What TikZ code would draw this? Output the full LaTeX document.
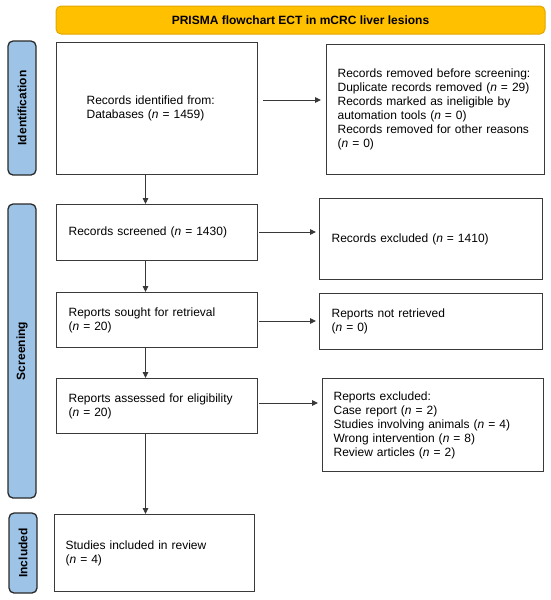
\documentclass[tikz,border=0pt]{standalone}
\usepackage{fontspec}
\setmainfont{Liberation Sans}
\usetikzlibrary{arrows.meta}
\definecolor{boxline}{HTML}{3A3A3A}
\definecolor{arrline}{HTML}{383838}
\definecolor{sideblue}{HTML}{9DC3E6}
\definecolor{sideline}{HTML}{2A2A2A}
\definecolor{titlefill}{HTML}{FFC000}
\definecolor{titleline}{HTML}{E3A600}
\begin{document}
\begin{tikzpicture}[x=1pt,y=-1pt,
  txt/.style={font=\fontsize{12}{14}\selectfont},
  box/.style={txt, draw=boxline, line width=1.2pt, fill=white, align=left,
    inner ysep=0pt, inner xsep=12pt, anchor=north west},
  side/.style={draw=sideline, line width=1.3pt, fill=sideblue, rounded corners=5pt,
    rotate=90, inner sep=0pt, font=\fontsize{12}{14}\selectfont\bfseries},
  arr/.style={draw=arrline, line width=0.9pt, -{Triangle[length=6pt,width=5.5pt]}}]
\useasboundingbox (0,0) rectangle (550,600);

% title
\node[draw=titleline, line width=1pt, fill=titlefill, rounded corners=5pt,
  minimum width=489pt, minimum height=28pt, inner sep=0pt,
  font=\fontsize{12}{14}\selectfont\bfseries] (title) at (300.5,20)
  {PRISMA flowchart ECT in mCRC liver lesions};

% side labels
\node[side, minimum width=134pt, minimum height=28pt] (sid) at (22,108) {Identification};
\node[side, minimum width=294pt, minimum height=28pt] (ssc) at (22,351) {Screening};
\node[side, minimum width=80pt, minimum height=28pt] (sin) at (23,553) {Included};

% left column
\node[box, inner xsep=30pt, text width=141pt, minimum height=132pt] (b1) at (56,42)
  {Records identified from:\\Databases (\textit{n} = 1459)};
\node[box, text width=177pt, minimum height=56pt] (s1) at (56,204)
  {Records screened (\textit{n} = 1430)};
\node[box, text width=177pt, minimum height=55pt] (s2) at (56,292)
  {Reports sought for retrieval\\(\textit{n} = 20)};
\node[box, text width=177pt, minimum height=55pt] (s3) at (56,378)
  {Reports assessed for eligibility\\(\textit{n} = 20)};
\node[box, inner xsep=11pt, text width=178pt, minimum height=77pt] (inc) at (54,514)
  {Studies included in review\\(\textit{n} = 4)};

% right column
\node[box, inner xsep=11pt, text width=196pt, minimum height=130pt] (r1) at (326,44)
  {Records removed before screening:\\Duplicate records removed (\textit{n} = 29)\\Records marked as ineligible by\\automation tools (\textit{n} = 0)\\Records removed for other reasons\\(\textit{n} = 0)};
\node[box, text width=199pt, minimum height=81pt] (r2) at (319,198)
  {Records excluded (\textit{n} = 1410)};
\node[box, text width=199pt, minimum height=56pt] (r3) at (319,293)
  {Reports not retrieved\\(\textit{n} = 0)};
\node[box, inner xsep=11pt, text width=199pt, minimum height=93pt] (r4) at (322,378)
  {Reports excluded:\\Case report (\textit{n} = 2)\\Studies involving animals (\textit{n} = 4)\\Wrong intervention (\textit{n} = 8)\\Review articles (\textit{n} = 2)};

% horizontal arrows
\draw[arr, shorten <=5pt, shorten >=5pt] (b1.east |- 0,100) -- (r1.west |- 0,100);
\draw[arr, shorten <=1pt, shorten >=3pt] (s1.east |- 0,232) -- (r2.west |- 0,232);
\draw[arr, shorten <=1pt, shorten >=3pt] (s2.east |- 0,321) -- (r3.west |- 0,321);
\draw[arr, shorten <=1pt, shorten >=4pt] (s3.east |- 0,403) -- (r4.west |- 0,403);

% vertical arrows
\draw[arr] (b1.south -| 145.5,0) -- (s1.north -| 145.5,0);
\draw[arr] (s1.south -| 145.5,0) -- (s2.north -| 145.5,0);
\draw[arr] (s2.south -| 145.5,0) -- (s3.north -| 145.5,0);
\draw[arr] (s3.south -| 145.5,0) -- (inc.north -| 145.5,0);
\end{tikzpicture}
\end{document}
